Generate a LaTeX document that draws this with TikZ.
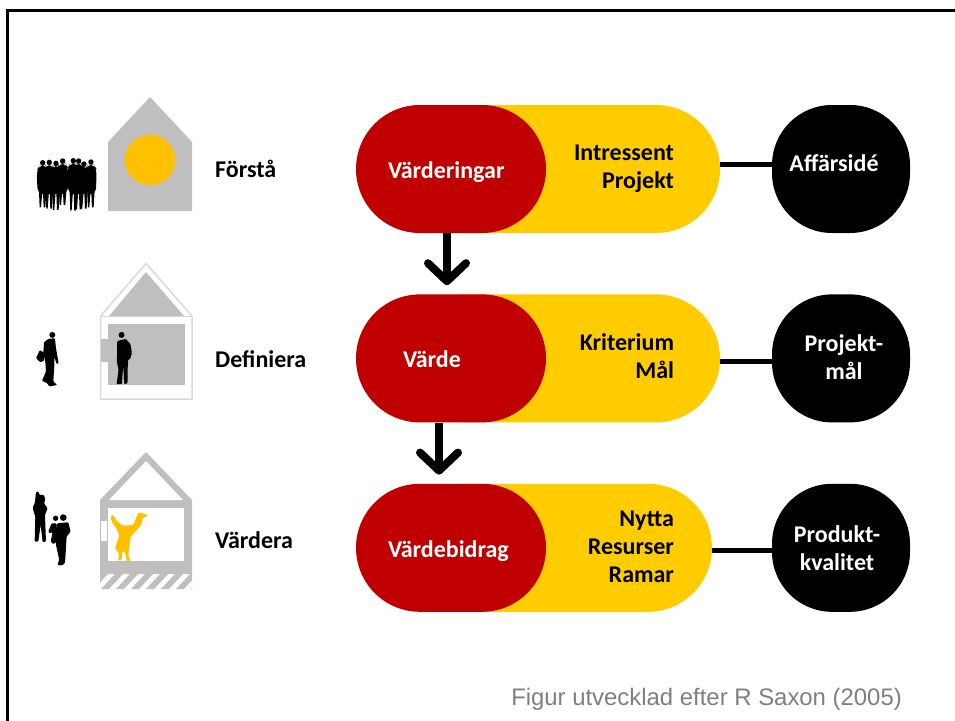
\documentclass[tikz,border=0pt]{standalone}
\usepackage{fontspec}
\setmainfont{Carlito}
\newfontfamily\notefont{Liberation Sans}
\usetikzlibrary{positioning,arrows.meta}
\definecolor{pillred}{HTML}{C00000}
\definecolor{pillyellow}{HTML}{FFCC00}
\definecolor{sunyellow}{HTML}{FFC000}
\definecolor{housegray}{HTML}{BFBFBF}
\definecolor{wallgray}{HTML}{D9D9D9}
\definecolor{notegray}{HTML}{7F7F7F}
\tikzset{
    redpill/.style={rectangle, fill=pillred, rounded corners=63.9pt, minimum width=190pt, minimum height=128pt, inner sep=0},
    yellowpill/.style={rectangle, fill=pillyellow, rounded corners=63.9pt, minimum height=128pt, inner sep=0},
    blackpill/.style={rectangle, fill=black, rounded corners=60pt, minimum width=138pt, minimum height=128pt, inner sep=0},
    pilltext/.style={inner sep=0, font=\bfseries\fontsize{24}{28}\selectfont},
    steptext/.style={pilltext, anchor=west},
    link/.style={line width=5pt},
    flow/.style={line width=8pt, -{Straight Barb[round,length=18pt,width=38pt,line width=8pt]}, shorten >=9pt}
}
\begin{document}
\begin{tikzpicture}[x=1pt,y=-1pt]
    \useasboundingbox (0,0) rectangle (955,720);
    \draw[line width=3pt] (7.5,725)--(7.5,10.5)--(960,10.5);

    % pills
    \node[yellowpill, minimum width=320pt](intressent) at (560,169){};
    \node[yellowpill, minimum width=320pt, below=61pt of intressent](kriterium){};
    \node[yellowpill, minimum width=312pt, below=61pt of kriterium, xshift=-4pt](nytta){};
    \node[redpill](varderingar) at (451,169){};
    \node[redpill, below=61pt of varderingar](varde){};
    \node[redpill, below=61pt of varde](vardebidrag){};
    \node[blackpill](affarside) at (841,169){};
    \node[blackpill, below=61pt of affarside](projektmal){};
    \node[blackpill, below=61pt of projektmal](produkt){};

    \draw[link](intressent.east|-0,164.5)--(affarside.west|-0,164.5);
    \draw[link](kriterium.east|-0,361)--(projektmal.west|-0,361);
    \draw[link](nytta.east|-0,550)--(produkt.west|-0,550);
    \draw[flow]([xshift=-4pt]varderingar.south)--([xshift=-4pt]varde.north);
    \draw[flow]([xshift=-12pt]varde.south)--([xshift=-12pt]vardebidrag.north);

    % texts
    \node[pilltext, text=white, right=32pt of varderingar.west, yshift=-3pt](t1){Värderingar};
    \node[pilltext, text=white, right=47pt of varde.west, yshift=-1pt](t2){Värde};
    \node[pilltext, text=white, right=32pt of vardebidrag.west, yshift=-3pt](t3){Värdebidrag};
    \node[pilltext, align=right, left=46pt of intressent.east](t4){Intressent\\Projekt};
    \node[pilltext, align=right, left=46pt of kriterium.east, yshift=2pt](t5){Kriterium\\Mål};
    \node[pilltext, align=right, left=38pt of nytta.east, yshift=1pt](t6){Nytta\\Resurser\\Ramar};
    \node[pilltext, text=white, align=center, yshift=6pt, xshift=-7pt](t7) at (affarside){Affärsidé};
    \node[pilltext, text=white, align=center, yshift=1pt, xshift=3pt](t8) at (projektmal){Projekt-\\mål};
    \node[pilltext, text=white, align=center, yshift=0pt, xshift=-4pt](t9) at (produkt){Produkt-\\kvalitet};
    \node[steptext](forsta) at (215,169){Förstå};
    \node[steptext](definiera) at (215,359){Definiera};
    \node[steptext](vardera) at (215,540){Värdera};
    \node[anchor=east, inner sep=0, text=notegray, font=\notefont\fontsize{23.9}{26}\selectfont](source) at (902,699){Figur utvecklad efter R Saxon (2005)};

    % house one
    \fill[housegray](150,97)--(192,142)--(192,211)--(108,211)--(108,142)--cycle;
    \fill[sunyellow](150,160) circle (25.3);
    \begin{scope}[shift={(30,150)},x=.333pt,y=-.333pt]
        \foreach \px/\py/\pf in {38/38/172,58/37/176,78/40/180,98/33/165,130/32/182,146/33/178,162/42/176,183/36/172}{
            \fill(\px,\py) circle (8);
            \fill[rounded corners=6pt](\px-9,\py+7)--(\px+9,\py+7)--(\px+17,\py+22)--(\px+15,132)--(\px-15,132)--(\px-18,\py+24)--cycle;
            \fill(\px-11,125)--(\px-1,125)--(\px-5,\pf)--(\px-9,\pf)--cycle;
            \fill(\px+1,125)--(\px+11,125)--(\px+8,\pf)--(\px+3,\pf)--cycle;
        }
    \end{scope}

    % house two
    \draw[wallgray, line width=1.5pt](146,263.5)--(192,316)--(192,399)--(100.5,399)--(100.5,316)--cycle;
    \draw[wallgray, line width=1.5pt](100.5,316.5)--(192,316.5);
    \fill[housegray](146,272)--(184,316)--(109,316)--cycle;
    \fill[housegray](108,324) rectangle (185,385);
    \fill[housegray](101,339) rectangle (108,362);
    \begin{scope}[shift={(20,255)},x=.333pt,y=-.333pt]
        \fill(97,240) circle (9);
        \fill[rounded corners=1pt](85,252)--(105,250)--(108,280)--(116,325)--(110,328)--(103,305)--(103,335)--(100,380)--(112,390)--(88,395)--(82,385)--(66,378)--(78,350)--(76,320)--(70,295)--(72,262)--cycle;
        \fill[rounded corners=1pt](48,310)--(60,285)--(73,295)--(72,318)--(60,322)--cycle;
        \fill(305,240) circle (9);
        \fill[rounded corners=1pt](292,258)--(318,252)--(332,268)--(336,295)--(330,315)--(325,312)--(323,345)--(323,385)--(313,388)--(310,330)--(306,388)--(290,388)--(296,345)--(291,320)--cycle;
    \end{scope}

    % house three
    \fill[housegray](146,452)--(192,500)--(192,574)--(100,574)--(100,500)--cycle;
    \fill[white](146,461)--(183,500)--(109,500)--cycle;
    \fill[white](108,508) rectangle (184,561);
    \fill[white](101,521) rectangle (107,541);
    \begin{scope}
        \clip(100,574) rectangle (192,589);
        \foreach \hx in {86,101,...,191}{
            \fill[housegray](\hx,589)--(\hx+14,574)--(\hx+22,574)--(\hx+8,589)--cycle;
        }
    \end{scope}
    \begin{scope}[shift={(100,505)},x=.333pt,y=-.333pt]
        \fill[sunyellow, rounded corners=1pt](32,32)--(40,30)--(50,48)--(68,62)--(100,60)--(112,30)--(118,22)--(143,30)--(140,36)--(130,36)--(122,62)--(105,82)--(92,95)--(88,125)--(85,150)--(92,170)--(80,170)--(75,140)--(67,140)--(65,165)--(55,168)--(57,145)--(45,130)--(50,115)--(58,92)--(50,72)--(35,50)--cycle;
    \end{scope}
    \begin{scope}[shift={(20,445)},x=.333pt,y=-.333pt]
        \fill[rounded corners=1pt](48,140)--(56,140)--(58,150)--(72,150)--(76,165)--(72,175)--(83,190)--(75,210)--(78,290)--(68,292)--(62,240)--(55,290)--(44,290)--(46,215)--(38,190)--(45,172)--cycle;
        \fill(130,218) circle (10);
        \fill[rounded corners=1pt](112,235)--(145,232)--(152,260)--(140,275)--(138,310)--(135,355)--(125,362)--(112,360)--(118,345)--(108,300)--(105,270)--cycle;
        \fill(107,220) circle (8);
        \fill[rounded corners=1pt](95,235)--(110,235)--(110,290)--(100,298)--(92,290)--(98,262)--(88,265)--(85,260)--cycle;
    \end{scope}
\end{tikzpicture}
\end{document}
